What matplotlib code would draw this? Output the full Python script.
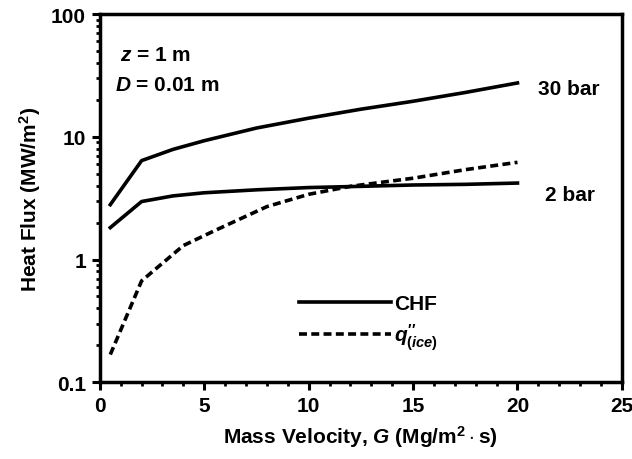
import matplotlib
matplotlib.use("Agg")
import matplotlib.pyplot as plt
from matplotlib.ticker import MultipleLocator, LogLocator, NullFormatter, FixedFormatter, FixedLocator

# Data
g_30bar = [0.5, 2, 3.5, 5, 7.5, 10, 12.5, 15, 17.5, 20]
chf_30bar = [2.8, 6.4, 7.9, 9.3, 11.8, 14.2, 16.8, 19.5, 23.0, 27.5]

g_2bar = [0.5, 2, 3.5, 5, 7.5, 10, 12.5, 15, 17.5, 20]
chf_2bar = [1.82, 2.97, 3.3, 3.5, 3.7, 3.86, 3.95, 4.05, 4.1, 4.2]

g_ice = [0.5, 2, 4, 5.5, 8, 10, 12, 15, 17.5, 20]
q_ice = [0.168, 0.67, 1.3, 1.72, 2.7, 3.4, 3.95, 4.6, 5.4, 6.2]

y_ticks = [0.1, 1, 10, 100]
y_tick_labels = ["0.1", "1", "10", "100"]

plt.rcParams["font.family"] = ["Liberation Sans", "DejaVu Sans"]
plt.rcParams["font.weight"] = "bold"
plt.rcParams["mathtext.fontset"] = "custom"
plt.rcParams["mathtext.rm"] = "Liberation Sans:bold"
plt.rcParams["mathtext.it"] = "Liberation Sans:italic:bold"
plt.rcParams["mathtext.bf"] = "Liberation Sans:bold"

fs = 15

fig = plt.figure(figsize=(6.32, 4.60), dpi=100)
ax = fig.add_axes([0.158, 0.167, 0.826, 0.800])

lw = 2.6
ax.plot(g_30bar, chf_30bar, color="black", linewidth=lw, label="CHF")
ax.plot(g_2bar, chf_2bar, color="black", linewidth=lw)
ax.plot(g_ice, q_ice, color="black", linewidth=lw, linestyle=(0, (2.2, 1.2)),
        label=r"$q^{\prime\prime}_{(ice)}$")

ax.set_yscale("log")
ax.set_xlim(0, 25)
ax.set_ylim(0.1, 100)

ax.xaxis.set_major_locator(MultipleLocator(5))
ax.xaxis.set_minor_locator(MultipleLocator(1))
ax.yaxis.set_major_locator(FixedLocator(y_ticks))
ax.yaxis.set_major_formatter(FixedFormatter(y_tick_labels))
ax.yaxis.set_minor_locator(LogLocator(base=10, subs=range(2, 10)))
ax.yaxis.set_minor_formatter(NullFormatter())

ax.tick_params(which="major", direction="out", length=6, width=2.2, labelsize=fs, pad=4)
ax.tick_params(which="minor", direction="out", length=3, width=2.0)
ax.tick_params(top=False, right=False)

for s in ax.spines.values():
    s.set_linewidth(2.5)

ax.set_xlabel(r"Mass Velocity, $G$ (Mg/m$^2\cdot$s)", fontsize=fs, fontweight="bold", labelpad=6)
ax.set_ylabel(r"Heat Flux (MW/m$^2$)", fontsize=fs, fontweight="bold", labelpad=6)

# Annotations
ax.text(0.038, 0.891, r"$z$ = 1 m", transform=ax.transAxes, fontsize=fs, va="center")
ax.text(0.029, 0.81, r"$D$ = 0.01 m", transform=ax.transAxes, fontsize=fs, va="center")
ax.text(21.0, 25.0, "30 bar", fontsize=fs, va="center", ha="left")
ax.text(21.3, 3.4, "2 bar", fontsize=fs, va="center", ha="left")

leg = ax.legend(loc="upper left", bbox_to_anchor=(0.362, 0.268), frameon=False,
                handlelength=4.4, handletextpad=0.15, labelspacing=0.4,
                fontsize=fs, borderpad=0)

fig.savefig("out.png", dpi=100)
